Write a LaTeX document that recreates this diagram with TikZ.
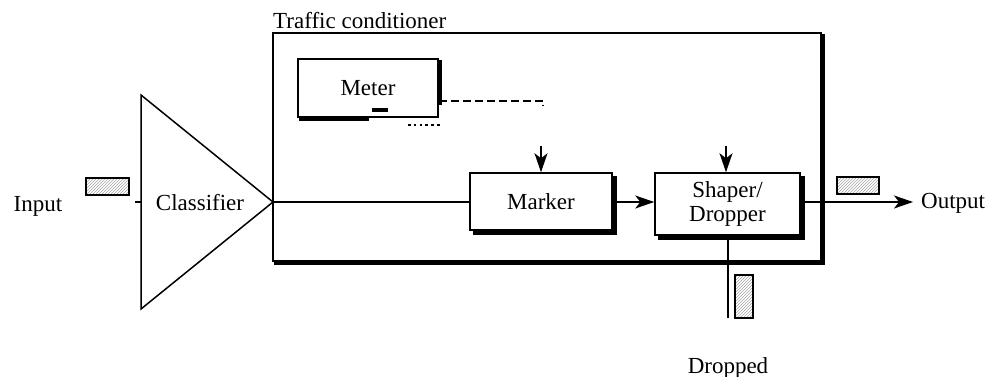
\documentclass[tikz,border=0pt]{standalone}
\usepackage{fontspec}
\setmainfont{Liberation Serif}
\usetikzlibrary{arrows.meta,patterns}
\begin{document}
\begin{tikzpicture}[x=1pt,y=-1pt,
  font=\fontsize{23}{27}\selectfont,
  ln/.style={line width=1.5pt},
  blk/.style={draw, line width=1.5pt, rectangle, inner sep=0pt, align=center},
  shadowline/.style={line width=3.5pt},
  arr/.style={ln, -{Stealth[length=19pt,width=13pt,inset=5pt]}},
  packet/.style={draw, line width=1.2pt, fill=gray!12, pattern=north east lines, pattern color=gray!70},
  lbl/.style={inner sep=0pt}]
\useasboundingbox (0,0) rectangle (993,377);

% Traffic conditioner frame
\node[blk, minimum width=548pt, minimum height=228pt] (tc) at (547,147) {};
\draw[shadowline] ([xshift=1pt,yshift=-2pt]tc.north east) -- ([xshift=1pt,yshift=-1pt]tc.south east) -- ([xshift=2pt,yshift=-1pt]tc.south west);
\node[lbl, anchor=base west] (tclabel) at (273,29) {Traffic conditioner};

% Classifier
\coordinate (ctop) at (141,95);
\coordinate (apex) at (273,202);
\coordinate (cbot) at (141,309);
\draw[ln, line join=miter] (ctop) -- (apex) -- (cbot) -- cycle;
\node[lbl, anchor=base] (classifier) at (200,210) {Classifier};

% Input
\node[lbl, anchor=base] (input) at (38,211) {Input};
\coordinate (intick) at (135,202);
\draw[ln] (intick) -- (ctop |- intick);
\node[packet, minimum width=43pt, minimum height=17pt, inner sep=0pt] (inpk) at (107.5,186.5) {};

% Meter
\node[blk, minimum width=140pt, minimum height=58pt] (meter) at (368,88) {Meter};
\draw[shadowline] ([xshift=1.5pt,yshift=-2pt]meter.north east) -- ([xshift=1.5pt,yshift=-47pt]meter.north east);
\draw[shadowline] ([xshift=2pt,yshift=-2pt]meter.south west) -- ([xshift=72pt,yshift=-2pt]meter.south west);
\fill (372,108) rectangle (388,112);
\coordinate (mdash) at (543,101);
\draw[ln, dash pattern=on 8pt off 4pt] (meter.east |- mdash) -- (mdash) -- ++(0,4);
\coordinate (dotA) at (408,125);
\coordinate (dotB) at (442,125);
\draw[line width=2.6pt, dash pattern=on 2.6pt off 3.2pt] (dotA) -- (dotB);

% Marker
\node[blk, minimum width=142pt, minimum height=57pt] (marker) at (541,201.5) {Marker};
\draw[shadowline] ([xshift=2pt,yshift=-4pt]marker.north east) -- ([xshift=2pt,yshift=-2pt]marker.south east) -- ([xshift=4pt,yshift=-2pt]marker.south west);

% Shaper/Dropper
\node[blk, minimum width=145pt, minimum height=62pt] (shaper) at (727.5,204) {Shaper/\\[-3pt]Dropper};
\draw[shadowline] ([xshift=2pt,yshift=-4pt]shaper.north east) -- ([xshift=2pt,yshift=-2pt]shaper.south east) -- ([xshift=4pt,yshift=-2pt]shaper.south west);

% control arrows
\coordinate (mkin) at (541,146);
\coordinate (shin) at (726,146);
\draw[arr] (mkin) -- (marker.north);
\draw[arr] (shin) -- (shin |- shaper.north);

% data path
\draw[ln] (apex) -- (marker.west |- apex);
\draw[arr] (marker.east |- apex) -- (shaper.west |- apex);
\coordinate (outtip) at (913,202);
\draw[arr] (shaper.east |- outtip) -- (outtip);
\node[lbl, anchor=west] (output) at (921,203) {Output};
\node[packet, minimum width=42pt, minimum height=17pt, inner sep=0pt] (outpk) at (858,185.5) {};

% Dropped
\coordinate (dropend) at (728,318);
\draw[ln] (dropend |- shaper.south) -- (dropend);
\node[packet, minimum width=18pt, minimum height=43pt, inner sep=0pt] (droppk) at (744,296.5) {};
\node[lbl, anchor=base] (dropped) at (728,373) {Dropped};
\end{tikzpicture}
\end{document}
